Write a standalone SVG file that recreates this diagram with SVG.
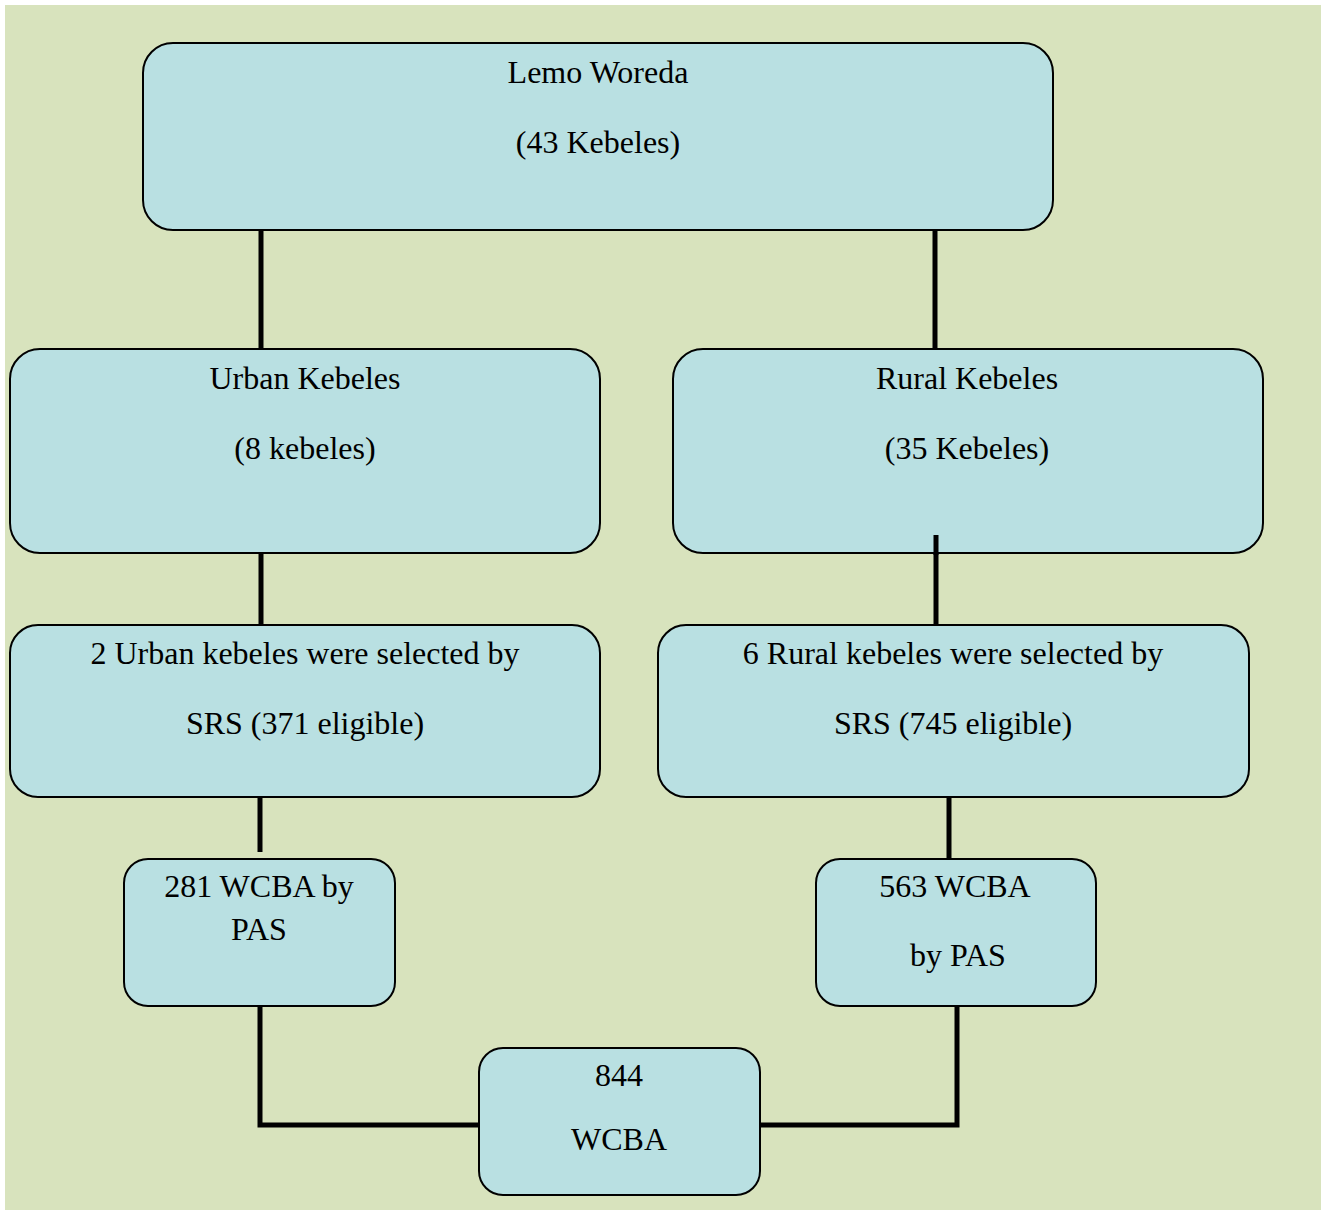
<svg xmlns="http://www.w3.org/2000/svg" width="1321" height="1210" viewBox="0 0 1321 1210">
<style>
.box{fill:#b9e0e2;stroke:#000;stroke-width:2}
.t{font-family:"Liberation Serif","Times New Roman",serif;font-size:32px;fill:#000;text-anchor:middle}
.c{fill:none;stroke:#000;stroke-width:5}
</style>
<rect x="0" y="0" width="1321" height="1210" fill="#fff"/>
<rect x="5" y="5" width="1316" height="1205" fill="#d8e3bd"/>
<g id="connectors">
<line class="c" x1="261" y1="230" x2="261" y2="350"/>
<line class="c" x1="935" y1="230" x2="935" y2="350"/>
<line class="c" x1="261" y1="553" x2="261" y2="626"/>
<line class="c" x1="936" y1="535" x2="936" y2="626"/>
<line class="c" x1="260" y1="797" x2="260" y2="852"/>
<line class="c" x1="949" y1="797" x2="949" y2="860"/>
<polyline class="c" points="260,1006 260,1125 480,1125"/>
<polyline class="c" points="957,1006 957,1125 759,1125"/>
</g>
<g id="lemo">
<rect class="box" x="143" y="43" width="910" height="187" rx="30"/>
<text class="t" x="598" y="83">Lemo Woreda</text>
<text class="t" x="598" y="153">(43 Kebeles)</text>
</g>
<g id="urban">
<rect class="box" x="10" y="349" width="590" height="204" rx="30"/>
<text class="t" x="305" y="389">Urban Kebeles</text>
<text class="t" x="305" y="459">(8 kebeles)</text>
</g>
<g id="rural">
<rect class="box" x="673" y="349" width="590" height="204" rx="30"/>
<text class="t" x="967" y="389">Rural Kebeles</text>
<text class="t" x="967" y="459">(35 Kebeles)</text>
</g>
<line class="c" x1="936" y1="535" x2="936" y2="555"/>
<g id="urbansel">
<rect class="box" x="10" y="625" width="590" height="172" rx="28"/>
<text class="t" x="305" y="664">2 Urban kebeles were selected by</text>
<text class="t" x="305" y="734">SRS (371 eligible)</text>
</g>
<g id="ruralsel">
<rect class="box" x="658" y="625" width="591" height="172" rx="28"/>
<text class="t" x="953" y="664">6 Rural kebeles were selected by</text>
<text class="t" x="953" y="734">SRS (745 eligible)</text>
</g>
<g id="w281">
<rect class="box" x="124" y="859" width="271" height="147" rx="24"/>
<text class="t" x="259" y="897">281 WCBA by</text>
<text class="t" x="259" y="940">PAS</text>
</g>
<g id="w563">
<rect class="box" x="816" y="859" width="280" height="147" rx="24"/>
<text class="t" x="955" y="897">563 WCBA</text>
<text class="t" x="958" y="966">by PAS</text>
</g>
<g id="w844">
<rect class="box" x="479" y="1048" width="281" height="147" rx="24"/>
<text class="t" x="619" y="1086">844</text>
<text class="t" x="619" y="1150">WCBA</text>
</g>
</svg>
